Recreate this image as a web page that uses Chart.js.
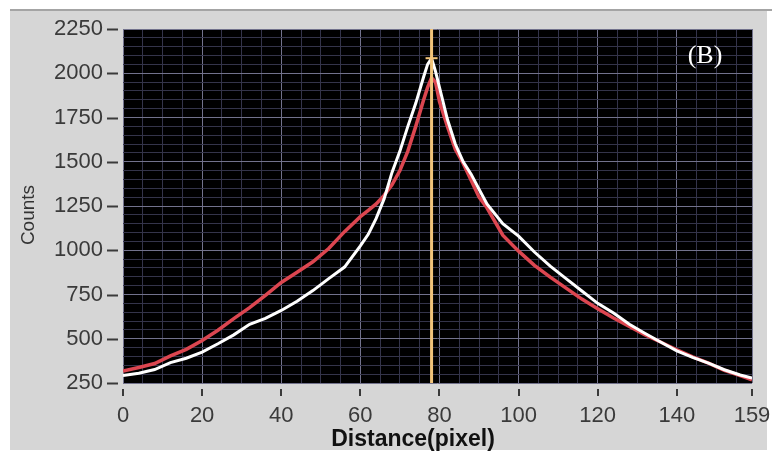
<!DOCTYPE html>
<html>
<head>
<meta charset="utf-8">
<script src="https://cdn.jsdelivr.net/npm/chart.js@4.4.1/dist/chart.umd.min.js"></script>
<style>
  html, body { margin: 0; padding: 0; background: #ffffff; }
  canvas { display: block; }
</style>
</head>
<body>
<canvas id="profileChart" width="772" height="457"></canvas>
<script>
// Values
const distance = [0, 4, 8, 12, 16, 20, 24, 28, 32, 36, 40, 44, 48, 52, 56, 60, 62, 64, 66, 68, 70, 72,
    74, 76, 77, 78, 79, 80, 82, 84, 86, 88, 90, 92, 96, 100, 104, 108, 112, 116, 120, 124, 128,
    132, 136, 140, 144, 148, 152, 156, 159];
const redCounts = [318, 338, 360, 403, 440, 490, 548, 614, 676, 745, 818, 876, 935, 1010, 1105, 1190,
    1225, 1262, 1310, 1370, 1450, 1560, 1700, 1850, 1920, 1975, 1950, 1840, 1700, 1570, 1490, 1395,
    1300, 1240, 1085, 995, 915, 848, 786, 724, 670, 617, 570, 522, 480, 438, 398, 362, 322, 292, 268];
const whiteCounts = [292, 305, 326, 365, 390, 425, 472, 522, 582, 615, 660, 712, 772, 840, 905, 1025,
    1090, 1180, 1290, 1440, 1560, 1700, 1830, 1980, 2050, 2085, 2010, 1920, 1740, 1600, 1500, 1430,
    1345, 1262, 1150, 1080, 990, 910, 840, 770, 700, 645, 582, 530, 480, 432, 395, 362, 325, 295, 278];
const xTickLabels = [0, 20, 40, 60, 80, 100, 120, 140, 159];
const yTickLabels = [250, 500, 750, 1000, 1250, 1500, 1750, 2000, 2250];
const cursorX = 78;
const cursorY = 2085;

const xMinorStep = 5;
const yMinorStep = 50;

const MAJOR_GRID = '#72728c';
const MINOR_GRID = '#34344a';
const LABEL_FONT = 'Liberation Sans, Arial, sans-serif';

function gridValues(min, max, step, extra) {
    const vals = [];
    for (let v = min; v <= max; v += step) vals.push(v);
    extra.forEach(v => { if (!vals.includes(v)) vals.push(v); });
    return vals.sort((a, b) => a - b);
}

// keep the plot box where the layout padding puts it
function noScalePadding(scale) {
    scale.paddingTop = 0;
    scale.paddingBottom = 0;
    scale.paddingLeft = 0;
    scale.paddingRight = 0;
}

const panelPlugin = {
    id: 'panel',
    beforeDraw(chart) {
        const { ctx, chartArea } = chart;
        ctx.save();
        ctx.fillStyle = '#ffffff';
        ctx.fillRect(0, 0, chart.width, chart.height);
        ctx.fillStyle = '#d6d6d6';
        ctx.fillRect(10, 10, 757, 440);
        ctx.fillStyle = '#a4a4a4';
        ctx.fillRect(10, 9, 762, 2);
        ctx.fillStyle = '#000000';
        ctx.fillRect(chartArea.left, chartArea.top, chartArea.right - chartArea.left, chartArea.bottom - chartArea.top);
        ctx.restore();
    },
    afterDatasetsDraw(chart) {
        // cursor
        const { ctx, chartArea, scales } = chart;
        const cx = scales.x.getPixelForValue(cursorX);
        const cy = scales.y.getPixelForValue(cursorY);
        ctx.save();
        ctx.strokeStyle = '#f2c47a';
        ctx.lineWidth = 3;
        ctx.beginPath();
        ctx.moveTo(cx, chartArea.top);
        ctx.lineTo(cx, chartArea.bottom);
        ctx.stroke();
        ctx.lineWidth = 2;
        ctx.beginPath();
        ctx.moveTo(cx - 6, cy);
        ctx.lineTo(cx + 6, cy);
        ctx.stroke();
        ctx.restore();
    },
    afterDraw(chart) {
        const { ctx, chartArea, scales } = chart;
        ctx.save();
        // tick marks, set off from the plot
        ctx.strokeStyle = '#3a3a3a';
        ctx.lineWidth = 2;
        yTickLabels.forEach(v => {
            const y = Math.round(scales.y.getPixelForValue(v)) + 0.5;
            ctx.beginPath();
            ctx.moveTo(chartArea.left - 16, y);
            ctx.lineTo(chartArea.left - 5, y);
            ctx.stroke();
        });
        xTickLabels.forEach(v => {
            const x = Math.round(scales.x.getPixelForValue(v));
            ctx.beginPath();
            ctx.moveTo(x, chartArea.bottom + 6);
            ctx.lineTo(x, chartArea.bottom + 13);
            ctx.stroke();
        });
        // axis titles
        ctx.fillStyle = '#111111';
        ctx.textAlign = 'center';
        ctx.textBaseline = 'middle';
        ctx.font = 'bold 23px ' + LABEL_FONT;
        ctx.fillText('Distance(pixel)', 413, 440);
        ctx.translate(29, 215);
        ctx.rotate(-Math.PI / 2);
        ctx.font = '19px ' + LABEL_FONT;
        ctx.fillStyle = '#333333';
        ctx.fillText('Counts', 0, 0);
        ctx.restore();
        // panel label
        ctx.save();
        ctx.fillStyle = '#ffffff';
        ctx.font = '26px Liberation Serif, Times New Roman, serif';
        ctx.textAlign = 'center';
        ctx.textBaseline = 'middle';
        ctx.fillText('(B)', 705, 56);
        ctx.restore();
    }
};

const xGrid = gridValues(0, 159, xMinorStep, xTickLabels);
const yGrid = gridValues(250, 2250, yMinorStep, yTickLabels);

const ctx = document.getElementById('profileChart').getContext('2d');
new Chart(ctx, {
    type: 'line',
    data: {
        datasets: [{
            label: 'white',
            data: distance.map((d, i) => ({ x: d, y: whiteCounts[i] })),
            borderColor: '#ffffff',
            borderWidth: 3,
            pointRadius: 0,
            tension: 0
        }, {
            label: 'red',
            data: distance.map((d, i) => ({ x: d, y: redCounts[i] })),
            borderColor: '#dc4650',
            borderWidth: 3.5,
            pointRadius: 0,
            tension: 0
        }]
    },
    options: {
        responsive: false,
        animation: false,
        devicePixelRatio: 1,
        layout: { padding: { left: 0, top: 29, right: 20, bottom: 0 } },
        plugins: {
            legend: { display: false },
            tooltip: { enabled: false }
        },
        scales: {
            x: {
                type: 'linear',
                min: 0,
                max: 159,
                afterBuildTicks: scale => { scale.ticks = xGrid.map(v => ({ value: v })); },
                afterFit: scale => { scale.height = 74; noScalePadding(scale); },
                border: { display: false },
                grid: {
                    drawTicks: false,
                    color: c => (c.tick && xTickLabels.includes(c.tick.value)) ? MAJOR_GRID : MINOR_GRID
                },
                ticks: {
                    autoSkip: false,
                    maxRotation: 0,
                    minRotation: 0,
                    padding: 20,
                    color: '#3a3a3a',
                    font: { family: LABEL_FONT, size: 22 },
                    callback: v => xTickLabels.includes(v) ? String(v) : ''
                }
            },
            y: {
                type: 'linear',
                min: 250,
                max: 2250,
                afterBuildTicks: scale => { scale.ticks = yGrid.map(v => ({ value: v })); },
                afterFit: scale => { scale.width = 123; noScalePadding(scale); },
                border: { display: false },
                grid: {
                    drawTicks: false,
                    color: c => (c.tick && yTickLabels.includes(c.tick.value)) ? MAJOR_GRID : MINOR_GRID
                },
                ticks: {
                    autoSkip: false,
                    padding: 20,
                    color: '#3a3a3a',
                    font: { family: LABEL_FONT, size: 22 },
                    callback: v => yTickLabels.includes(v) ? String(v) : ''
                }
            }
        }
    },
    plugins: [panelPlugin]
});
</script>
</body>
</html>
